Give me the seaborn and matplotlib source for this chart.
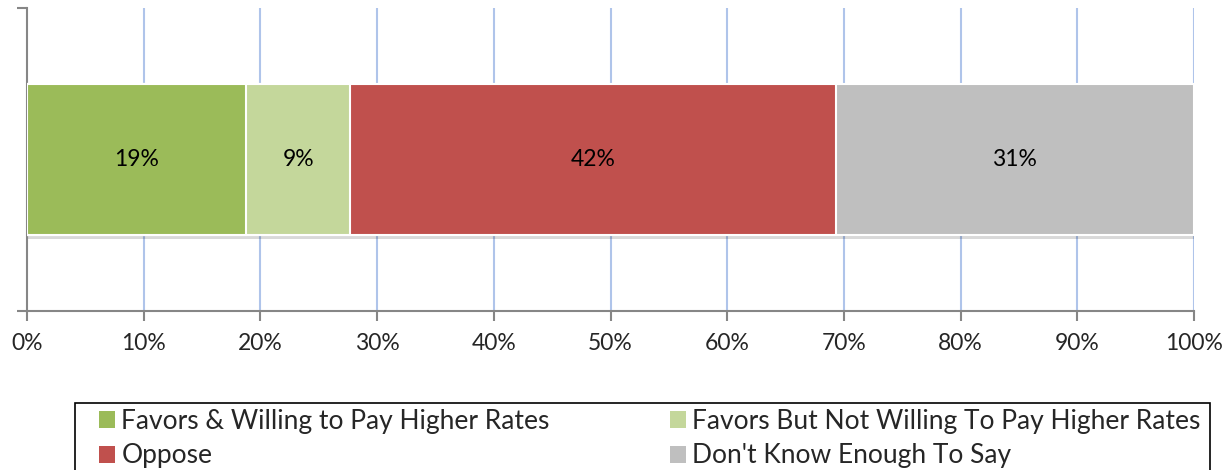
import matplotlib
matplotlib.use("Agg")
import matplotlib.pyplot as plt
import matplotlib.patheffects as pe
import seaborn as sns
import numpy as np
import pandas as pd
from matplotlib.patches import Patch, Rectangle

categories = ["Favors & Willing to Pay Higher Rates",
              "Favors But Not Willing To Pay Higher Rates",
              "Oppose",
              "Don't Know Enough To Say"]
values = [18.8, 8.9, 41.6, 30.7]
labels = ["19%", "9%", "42%", "31%"]
colors = ["#9BBB59", "#C4D79B", "#C0504D", "#BFBFBF"]
xticks = [0, 10, 20, 30, 40, 50, 60, 70, 80, 90, 100]
xticklabels = [f"{t}%" for t in xticks]

sns.set_theme(style="white")
plt.rcParams['font.family'] = ['Lato', 'DejaVu Sans']

fig = plt.figure(figsize=(12.31, 4.70), dpi=100)
ax = fig.add_axes([27/1231, 1-311/470, 1167/1231, 303/470])

cum = np.cumsum(values)
# draw cumulative bars from largest to smallest so segments stack
for i in range(len(values)-1, -1, -1):
    df = pd.DataFrame({"y": ["row"], "x": [cum[i]]})
    sns.barplot(data=df, x="x", y="y", orient="h", color=colors[i],
                width=0.5, edgecolor="white", linewidth=1.5, ax=ax,
                saturation=1, zorder=3)

ax.patches[0].set_path_effects([
    pe.SimplePatchShadow(offset=(1, -3), shadow_rgbFace="#000000", alpha=0.15),
    pe.Normal()])

starts = cum - np.array(values)
for s, v, lab in zip(starts, values, labels):
    ax.text(s + v/2, 0, lab, ha="center", va="center", fontsize=16.5,
            color="black", zorder=5)

ax.set_xlim(0, 100)
ax.set_ylim(0.5, -0.5)
ax.set_xticks(xticks)
ax.set_xticklabels(xticklabels, fontsize=16.5)
ax.set_yticks([-0.5, 0.5])
ax.set_yticklabels([])
ax.set_xlabel("")
ax.set_ylabel("")

for x in xticks[1:]:
    ax.axvline(x, color="#AFC4EA", lw=1.5, zorder=1)

for side in ["top", "right"]:
    ax.spines[side].set_visible(False)
for side in ["left", "bottom"]:
    ax.spines[side].set_color("#868686")
    ax.spines[side].set_linewidth(1.5)
ax.tick_params(axis="x", direction="out", length=7, width=1.5, color="#868686",
               pad=9, bottom=True)
ax.tick_params(axis="y", direction="out", length=7, width=1.5, color="#868686",
               left=True)

# legend (row-major order for 2 columns)
order = [0, 2, 1, 3]
handles = [Patch(facecolor=colors[i], edgecolor="none") for i in order]
leg_labels = [categories[i] for i in order]
leg = fig.legend(handles, leg_labels, ncol=2, loc="upper left",
                 bbox_to_anchor=(99/1231, 1-409/470),
                 fontsize=19, frameon=False,
                 handlelength=0.6, handleheight=0.6,
                 handletextpad=0.25, borderpad=0, labelspacing=0.36,
                 columnspacing=4.55, borderaxespad=0)
fig.add_artist(Rectangle((75/1231, -0.05), 1135/1231, 0.05 + 1-403/470,
                         transform=fig.transFigure, fill=False,
                         edgecolor="black", linewidth=1.2))

fig.savefig("out.png", dpi=100)
